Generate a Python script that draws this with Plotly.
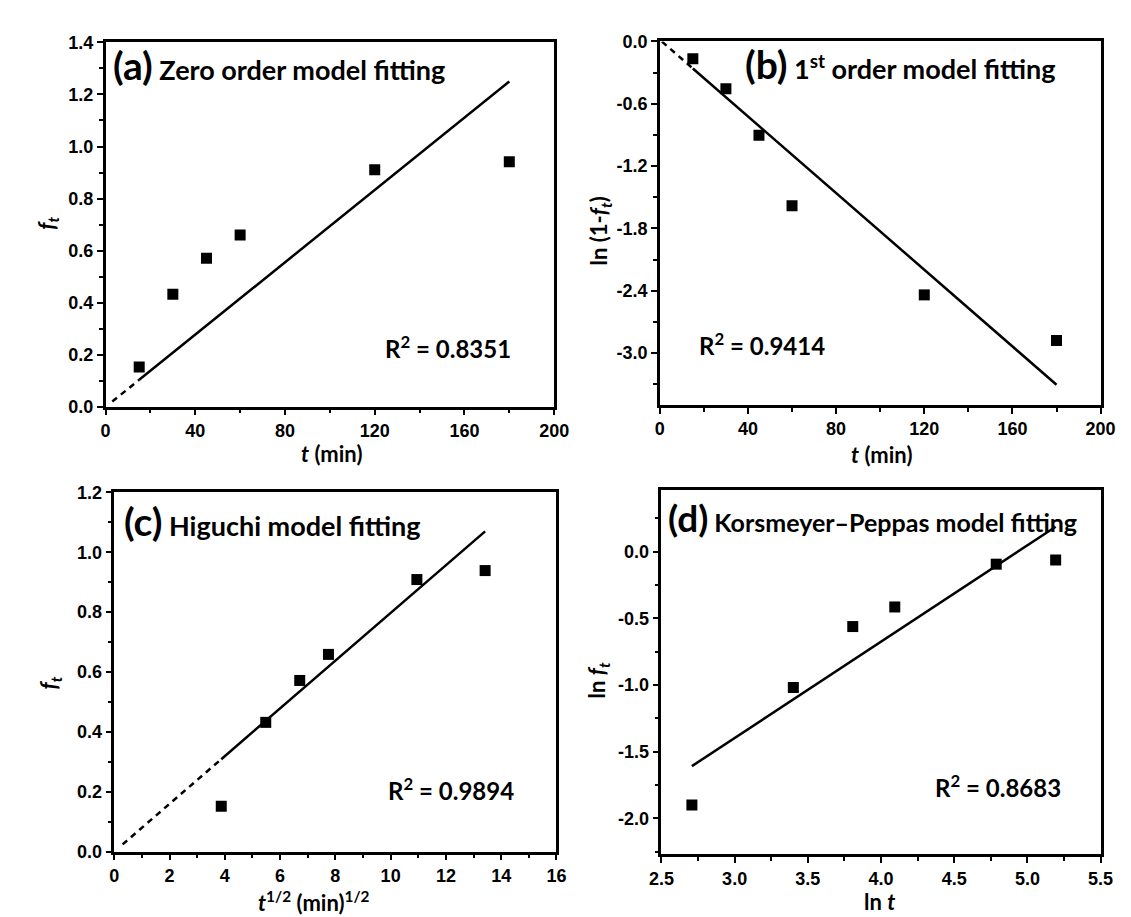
import plotly.graph_objects as go

# ---------------- data ----------------
t_min = [15, 30, 45, 60, 120, 180]
ft_a = [0.152, 0.432, 0.570, 0.660, 0.911, 0.941]
ln1mf_b = [-0.167, -0.455, -0.904, -1.582, -2.44, -2.88]
sqrt_t_c = [3.87, 5.48, 6.71, 7.75, 10.95, 13.42]
ft_c = [0.152, 0.432, 0.572, 0.659, 0.909, 0.939]
lnt_d = [2.708, 3.401, 3.807, 4.094, 4.787, 5.193]
lnf_d = [-1.90, -1.018, -0.561, -0.414, -0.093, -0.061]

fit_a_x, fit_a_y, dash_a_x0 = [15, 180], [0.103, 1.25], 3.0
fit_b_x, fit_b_y, dash_b_x0 = [15, 180], [-0.26, -3.305], 1.0
fit_c_x, fit_c_y, dash_c_x0 = [3.87, 13.42], [0.309, 1.07], 0.3
fit_d_x, fit_d_y = [2.708, 5.193], [-1.608, 0.188]

# tick values / labels
xt_a = [0, 40, 80, 120, 160, 200]
yt_a = [0.0, 0.2, 0.4, 0.6, 0.8, 1.0, 1.2, 1.4]
xt_b = [0, 40, 80, 120, 160, 200]
yt_b = [0.0, -0.6, -1.2, -1.8, -2.4, -3.0]
xt_c = [0, 2, 4, 6, 8, 10, 12, 14, 16]
yt_c = [0.0, 0.2, 0.4, 0.6, 0.8, 1.0, 1.2]
xt_d = [2.5, 3.0, 3.5, 4.0, 4.5, 5.0, 5.5]
yt_d = [0.0, -0.5, -1.0, -1.5, -2.0]

r2_labels = ["0.8351", "0.9414", "0.9894", "0.8683"]
titles = ["Zero order model fitting", "1<sup>st</sup> order model fitting",
          "Higuchi model fitting", "Korsmeyer\u2013Peppas model fitting"]
panel_tags = ["(a)", "(b)", "(c)", "(d)"]

W, H = 1131, 917
TXT = "Lato"
TICKF = "Liberation Sans"


def px(x):
    return x / W


def py(y):
    return 1 - y / H


def lab(vals, fmt):
    return ["<b>" + (fmt % v).replace("\u2212", "-") + "</b>" for v in vals]


fig = go.Figure()


def extend(x0, xs, ys):
    slope = (ys[1] - ys[0]) / (xs[1] - xs[0])
    return ys[0] + (x0 - xs[0]) * slope


panels = [
    dict(x=t_min, y=ft_a, fx=fit_a_x, fy=fit_a_y, dx=dash_a_x0, xa="x", ya="y"),
    dict(x=t_min, y=ln1mf_b, fx=fit_b_x, fy=fit_b_y, dx=dash_b_x0, xa="x2", ya="y2"),
    dict(x=sqrt_t_c, y=ft_c, fx=fit_c_x, fy=fit_c_y, dx=dash_c_x0, xa="x3", ya="y3"),
    dict(x=lnt_d, y=lnf_d, fx=fit_d_x, fy=fit_d_y, dx=None, xa="x4", ya="y4"),
]

for p in panels:
    if p["dx"] is not None:
        fig.add_trace(go.Scatter(
            x=[p["dx"], p["fx"][0]], y=[extend(p["dx"], p["fx"], p["fy"]), p["fy"][0]],
            mode="lines", line=dict(color="black", width=2.5, dash="6px,5px"),
            xaxis=p["xa"], yaxis=p["ya"], showlegend=False, hoverinfo="skip"))
    fig.add_trace(go.Scatter(
        x=p["fx"], y=p["fy"], mode="lines", line=dict(color="black", width=2.5),
        xaxis=p["xa"], yaxis=p["ya"], showlegend=False))
    fig.add_trace(go.Scatter(
        x=p["x"], y=p["y"], mode="markers",
        marker=dict(symbol="square", size=11, color="black"),
        xaxis=p["xa"], yaxis=p["ya"], showlegend=False))

# plot areas in pixels: (left, right, top, bottom)
boxes = [(86.7, 546.7, 25, 397.3), (655, 1107, 24, 395.6),
         (95.7, 549, 485, 852.3), (656.7, 1107, 483, 855)]
xranges = [[0, 200], [0, 200], [0, 16], [2.5, 5.5]]
yranges = [[0, 1.4], [-3.5, 0], [0, 1.2], [-2.27, 0.46]]
xminor = [20, 20, 1, 0.25]
yminor = [0.1, 0.3, 0.1, 0.25]
xticks = [(xt_a, "%d"), (xt_b, "%d"), (xt_c, "%d"), (xt_d, "%.1f")]
yticks = [(yt_a, "%.1f"), (yt_b, "%.1f"), (yt_c, "%.1f"), (yt_d, "%.1f")]

axis_common = dict(
    showline=True, linewidth=2.5, linecolor="black", mirror=True,
    ticks="outside", ticklen=6, tickwidth=2, tickcolor="black",
    showgrid=False, zeroline=False,
    tickfont=dict(family=TICKF, size=18, color="black", weight="bold"),
)

layout_axes = {}
for i in range(4):
    l, r, t, b = boxes[i]
    sfx = "" if i == 0 else str(i + 1)
    layout_axes["xaxis" + sfx] = dict(
        axis_common, domain=[px(l), px(r)], range=xranges[i],
        anchor="y" + sfx, tickmode="array", tickvals=xticks[i][0],
        ticktext=lab(*xticks[i]),
        minor=dict(ticks="outside", ticklen=4, tickwidth=2, tickcolor="black",
                   dtick=xminor[i], tick0=xranges[i][0], showgrid=False))
    layout_axes["yaxis" + sfx] = dict(
        axis_common, domain=[py(b), py(t)], range=yranges[i],
        anchor="x" + sfx, tickmode="array", tickvals=yticks[i][0],
        ticktext=lab(*yticks[i]),
        minor=dict(ticks="outside", ticklen=4, tickwidth=2, tickcolor="black",
                   dtick=yminor[i], tick0=0, showgrid=False))

ann = []
# panel titles
title_pos = [(92, 48), (740, 47), (104, 514), (661, 511)]
title_size = [27, 27, 27, 25]
tag_size = [39, 39, 39, 37]
for i in range(4):
    x0, y0 = title_pos[i]
    ann.append(dict(
        xref="paper", yref="paper", x=px(x0), y=py(y0), xanchor="left", yanchor="middle",
        text="<b><span style='font-size:%dpx'>%s</span> %s</b>" % (tag_size[i], panel_tags[i], titles[i]),
        showarrow=False, font=dict(family=TXT, size=title_size[i], color="black")))

# R^2 labels (right edge, centre y)
r2_pos = [(505, 336), (826, 333), (508, 788), (1068, 785)]
for i in range(4):
    x0, y0 = r2_pos[i]
    ann.append(dict(
        xref="paper", yref="paper", x=px(x0), y=py(y0), xanchor="right", yanchor="middle",
        text="<b>R<sup>2</sup> = %s</b>" % r2_labels[i],
        showarrow=False, font=dict(family=TXT, size=24, color="black")))

# axis titles
xt = [
    (318, 445, "<b><i>t</i> (min)</b>"),
    (882, 446, "<b><i>t</i> (min)</b>"),
    (300, 903, "<b><i>t</i><sup>1/2</sup> (min)<sup>1/2</sup></b>"),
    (880, 903, "<b>ln <i>t</i></b>"),
]
for x0, y0, txt in xt:
    ann.append(dict(xref="paper", yref="paper", x=px(x0), y=py(y0),
                    xanchor="center", yanchor="middle", text=txt, showarrow=False,
                    font=dict(family=TXT, size=22, color="black")))
yt = [
    (28, 210, "<b><i>f</i><sub><i>t</i></sub></b>"),
    (594, 218, "<b>ln (1-<i>f</i><sub><i>t</i></sub>)</b>"),
    (30, 680, "<b><i>f</i><sub><i>t</i></sub></b>"),
    (592, 677, "<b>ln <i>f</i><sub><i>t</i></sub></b>"),
]
for x0, y0, txt in yt:
    ann.append(dict(xref="paper", yref="paper", x=px(x0), y=py(y0),
                    xanchor="center", yanchor="middle", text=txt, showarrow=False,
                    textangle=-90, font=dict(family=TXT, size=22, color="black")))

fig.update_layout(
    width=W, height=H, margin=dict(l=0, r=0, t=0, b=0),
    paper_bgcolor="white", plot_bgcolor="white",
    annotations=ann, **layout_axes)

fig.write_html("out.html")
